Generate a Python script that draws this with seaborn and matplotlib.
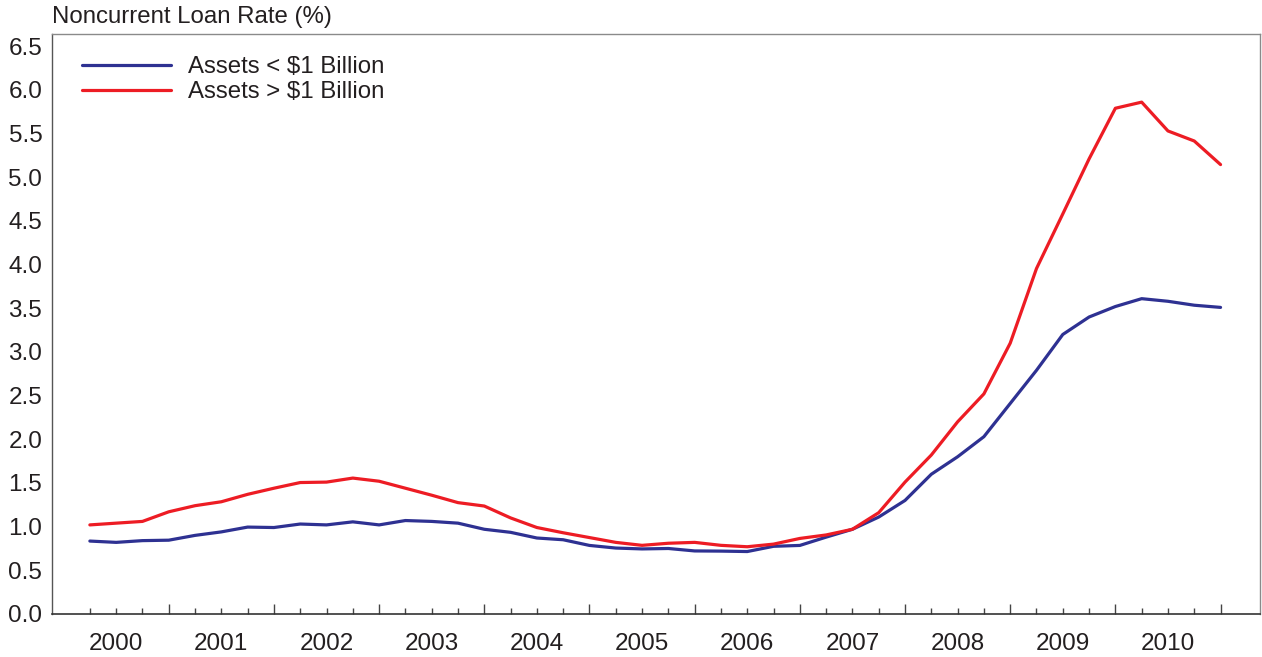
import numpy as np
import pandas as pd
import matplotlib
matplotlib.use("Agg")
import matplotlib.pyplot as plt
import seaborn as sns

years = [str(y) for y in range(2000, 2011)]
quarters = [f"{y}Q{q}" for y in years for q in range(1, 5)]

small_banks = [0.835, 0.82, 0.84, 0.845, 0.90, 0.94, 0.995, 0.99, 1.03, 1.02, 1.055, 1.02,
               1.07, 1.06, 1.04, 0.97, 0.935, 0.87, 0.85, 0.785, 0.755, 0.745, 0.75, 0.722,
               0.72, 0.715, 0.775, 0.785, 0.88, 0.97, 1.11, 1.30, 1.60, 1.80, 2.03, 2.41,
               2.79, 3.20, 3.40, 3.52, 3.61, 3.58, 3.535, 3.51]
large_banks = [1.02, 1.04, 1.06, 1.17, 1.24, 1.285, 1.37, 1.44, 1.505, 1.51, 1.556, 1.52,
               1.44, 1.36, 1.275, 1.236, 1.10, 0.99, 0.93, 0.875, 0.82, 0.786, 0.81, 0.82,
               0.786, 0.77, 0.80, 0.865, 0.905, 0.97, 1.16, 1.51, 1.82, 2.20, 2.52, 3.10,
               3.955, 4.58, 5.21, 5.79, 5.86, 5.53, 5.415, 5.145]
series_names = ["Assets < $1 Billion", "Assets > $1 Billion"]

df = pd.DataFrame({
    "q": list(range(len(quarters))) * 2,
    "rate": small_banks + large_banks,
    "group": [series_names[0]] * len(quarters) + [series_names[1]] * len(quarters),
})

sns.set_style("white")
plt.rcParams["font.family"] = ["Liberation Sans", "DejaVu Sans"]

fig = plt.figure(figsize=(12.62, 6.57), dpi=100)
ax = fig.add_axes([52 / 1262, 1 - 614 / 657, 1208 / 1262, 580 / 657])

sns.lineplot(data=df, x="q", y="rate", hue="group", hue_order=series_names,
             palette=["#2E3192", "#ED1C24"], linewidth=2.3, ax=ax)

ax.set_xlim(-1.44, 44.5)
ax.set_ylim(0, 6.64)
ax.set_yticks(np.arange(0, 6.51, 0.5))
ax.set_yticklabels([f"{v:.1f}" for v in np.arange(0, 6.51, 0.5)])
ax.tick_params(axis="y", length=0, pad=7, labelsize=17.5, labelcolor="#231f20")

# long ticks at each year's last quarter, short ticks every quarter, year label at Q2
ax.set_xticks(range(3, len(quarters), 4))
ax.set_xticklabels([])
ax.set_xticks(range(len(quarters)), minor=True)
ax.set_xticklabels([q[:4] if i % 4 == 1 else "" for i, q in enumerate(quarters)],
                   minor=True)
ax.tick_params(axis="x", which="both", bottom=True)
ax.tick_params(axis="x", which="major", direction="in", length=7, width=1, color="#444")
ax.tick_params(axis="x", which="minor", direction="in", length=4, width=1, color="#444",
               pad=14, labelsize=17.5, labelcolor="#231f20")
ax.set_xlabel("")
ax.set_ylabel("")

for side in ["top", "right"]:
    ax.spines[side].set_color("#8a8a8a")
    ax.spines[side].set_linewidth(1)
ax.spines["left"].set_color("#555555")
ax.spines["bottom"].set_color("#333333")
ax.spines["left"].set_linewidth(1)
ax.spines["bottom"].set_linewidth(1.2)

ax.legend(loc="upper left", bbox_to_anchor=(0.017, 0.978), frameon=False, fontsize=17.3,
          handlelength=3.7, handletextpad=0.7, labelspacing=0.12, borderaxespad=0)
for t in ax.get_legend().get_texts():
    t.set_color("#231f20")

fig.text(52 / 1262, 1 - 17 / 657, "Noncurrent Loan Rate (%)", fontsize=17.3,
         color="#231f20", va="center", ha="left")

fig.savefig("out.png", dpi=100)
